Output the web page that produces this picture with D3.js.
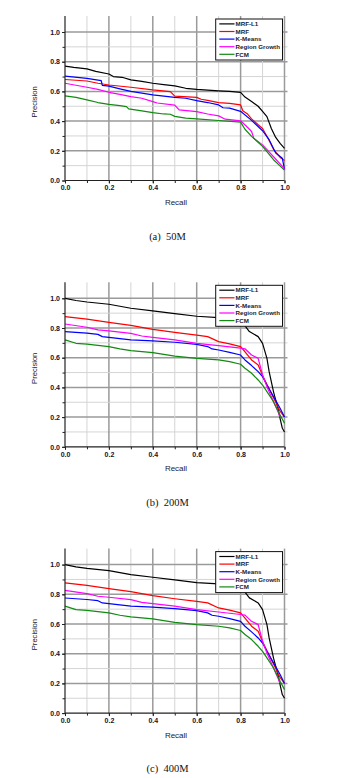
<!DOCTYPE html>
<html>
<head>
<meta charset="utf-8">
<script src="https://cdn.jsdelivr.net/npm/d3@7"></script>
<style>
  html, body { margin: 0; padding: 0; background: #fff; }
  svg { display: block; }
</style>
</head>
<body>
<svg id="chart" width="342" height="778"></svg>
<script>
// ---------- DATA ----------
const seriesNames = ["MRF-L1", "MRF", "K-Means", "Region Growth", "FCM"];
const seriesColors = ["#000000", "#ff0000", "#0000ff", "#ff00ff", "#118a11"];
const xTicks = [0, 0.2, 0.4, 0.6, 0.8, 1.0];
const yTicks = [0, 0.2, 0.4, 0.6, 0.8, 1.0];
const captions = ["(a)  50M", "(b)  200M", "(c)  400M"];
const xLabel = "Recall";
const yLabel = "Precision";

// 50M
const mrfL1_50M = [[0,0.77],[0.04,0.762],[0.1,0.752],[0.14,0.735],[0.2,0.717],[0.22,0.7],[0.26,0.695],[0.3,0.678],[0.35,0.668],[0.4,0.655],[0.45,0.646],[0.5,0.637],[0.55,0.621],[0.6,0.614],[0.7,0.604],[0.75,0.6],[0.8,0.594],[0.82,0.562],[0.85,0.532],[0.88,0.5],[0.9,0.466],[0.92,0.43],[0.94,0.35],[0.96,0.29],[0.98,0.25],[1.0,0.216]];
const mrf_50M = [[0,0.68],[0.1,0.67],[0.15,0.655],[0.2,0.643],[0.3,0.628],[0.4,0.61],[0.48,0.599],[0.5,0.568],[0.6,0.56],[0.62,0.547],[0.65,0.54],[0.7,0.525],[0.75,0.519],[0.8,0.509],[0.81,0.47],[0.83,0.45],[0.85,0.415],[0.88,0.375],[0.9,0.35],[0.93,0.27],[0.95,0.21],[0.98,0.155],[1.0,0.135]];
const kmeans_50M = [[0,0.703],[0.1,0.688],[0.165,0.673],[0.17,0.64],[0.2,0.635],[0.25,0.617],[0.3,0.6],[0.4,0.576],[0.5,0.56],[0.55,0.554],[0.6,0.538],[0.65,0.525],[0.7,0.509],[0.72,0.49],[0.75,0.487],[0.8,0.466],[0.85,0.405],[0.9,0.335],[0.93,0.275],[0.96,0.185],[0.99,0.15],[1.0,0.075]];
const regionGrowth_50M = [[0,0.655],[0.1,0.628],[0.15,0.614],[0.2,0.594],[0.25,0.58],[0.3,0.565],[0.35,0.554],[0.4,0.531],[0.42,0.522],[0.5,0.508],[0.52,0.475],[0.6,0.464],[0.65,0.448],[0.7,0.435],[0.73,0.413],[0.8,0.402],[0.83,0.36],[0.85,0.33],[0.86,0.285],[0.9,0.24],[0.95,0.16],[1.0,0.08]];
const fcm_50M = [[0,0.57],[0.05,0.56],[0.1,0.543],[0.15,0.525],[0.2,0.513],[0.25,0.504],[0.28,0.498],[0.29,0.482],[0.35,0.469],[0.4,0.457],[0.45,0.448],[0.48,0.446],[0.5,0.432],[0.55,0.42],[0.6,0.415],[0.7,0.404],[0.8,0.393],[0.82,0.345],[0.85,0.297],[0.9,0.23],[0.95,0.14],[1.0,0.07]];

// 200M
const mrfL1_200M = [[0,1.0],[0.05,0.985],[0.1,0.975],[0.2,0.96],[0.3,0.933],[0.4,0.915],[0.5,0.897],[0.6,0.879],[0.7,0.87],[0.8,0.855],[0.82,0.815],[0.84,0.776],[0.88,0.742],[0.9,0.697],[0.92,0.596],[0.93,0.506],[0.95,0.37],[0.97,0.26],[0.98,0.19],[0.99,0.125],[1.0,0.1]];
const mrf_200M = [[0,0.877],[0.1,0.86],[0.2,0.838],[0.3,0.818],[0.4,0.791],[0.5,0.77],[0.6,0.752],[0.65,0.742],[0.7,0.708],[0.75,0.693],[0.8,0.675],[0.82,0.64],[0.85,0.585],[0.88,0.551],[0.9,0.48],[0.92,0.42],[0.95,0.33],[0.98,0.24],[1.0,0.2]];
const kmeans_200M = [[0,0.775],[0.1,0.765],[0.15,0.757],[0.17,0.742],[0.3,0.72],[0.4,0.713],[0.5,0.704],[0.6,0.69],[0.65,0.675],[0.67,0.659],[0.7,0.652],[0.75,0.636],[0.8,0.618],[0.82,0.585],[0.85,0.547],[0.88,0.506],[0.9,0.472],[0.92,0.416],[0.95,0.338],[0.98,0.26],[1.0,0.2]];
const regionGrowth_200M = [[0,0.827],[0.1,0.805],[0.15,0.787],[0.2,0.78],[0.3,0.764],[0.35,0.746],[0.4,0.737],[0.5,0.72],[0.55,0.708],[0.6,0.697],[0.7,0.681],[0.8,0.664],[0.82,0.66],[0.85,0.618],[0.88,0.596],[0.9,0.484],[0.92,0.405],[0.95,0.304],[0.97,0.237],[0.98,0.2]];
const fcm_200M = [[0,0.72],[0.05,0.697],[0.1,0.692],[0.2,0.675],[0.25,0.659],[0.3,0.648],[0.4,0.634],[0.5,0.611],[0.6,0.596],[0.7,0.585],[0.75,0.574],[0.8,0.556],[0.82,0.529],[0.85,0.495],[0.88,0.45],[0.9,0.416],[0.92,0.372],[0.95,0.304],[0.98,0.214],[1.0,0.158]];

// 400M
const mrfL1_400M = [[0,1.0],[0.05,0.985],[0.1,0.975],[0.2,0.96],[0.3,0.933],[0.4,0.915],[0.5,0.897],[0.6,0.879],[0.7,0.87],[0.8,0.855],[0.82,0.815],[0.84,0.776],[0.88,0.742],[0.9,0.697],[0.92,0.596],[0.93,0.506],[0.95,0.37],[0.97,0.26],[0.98,0.19],[0.99,0.125],[1.0,0.1]];
const mrf_400M = [[0,0.877],[0.1,0.86],[0.2,0.838],[0.3,0.818],[0.4,0.791],[0.5,0.77],[0.6,0.752],[0.65,0.742],[0.7,0.708],[0.75,0.693],[0.8,0.675],[0.82,0.64],[0.85,0.585],[0.88,0.551],[0.9,0.48],[0.92,0.42],[0.95,0.33],[0.98,0.24],[1.0,0.2]];
const kmeans_400M = [[0,0.775],[0.1,0.765],[0.15,0.757],[0.17,0.742],[0.3,0.72],[0.4,0.713],[0.5,0.704],[0.6,0.69],[0.65,0.675],[0.67,0.659],[0.7,0.652],[0.75,0.636],[0.8,0.618],[0.82,0.585],[0.85,0.547],[0.88,0.506],[0.9,0.472],[0.92,0.416],[0.95,0.338],[0.98,0.26],[1.0,0.2]];
const regionGrowth_400M = [[0,0.827],[0.1,0.805],[0.15,0.787],[0.2,0.78],[0.3,0.764],[0.35,0.746],[0.4,0.737],[0.5,0.72],[0.55,0.708],[0.6,0.697],[0.7,0.681],[0.8,0.664],[0.82,0.66],[0.85,0.618],[0.88,0.596],[0.9,0.484],[0.92,0.405],[0.95,0.304],[0.97,0.237],[0.98,0.2]];
const fcm_400M = [[0,0.72],[0.05,0.697],[0.1,0.692],[0.2,0.675],[0.25,0.659],[0.3,0.648],[0.4,0.634],[0.5,0.611],[0.6,0.596],[0.7,0.585],[0.75,0.574],[0.8,0.556],[0.82,0.529],[0.85,0.495],[0.88,0.45],[0.9,0.416],[0.92,0.372],[0.95,0.304],[0.98,0.214],[1.0,0.158]];

const panels = [
  [mrfL1_50M, mrf_50M, kmeans_50M, regionGrowth_50M, fcm_50M],
  [mrfL1_200M, mrf_200M, kmeans_200M, regionGrowth_200M, fcm_200M],
  [mrfL1_400M, mrf_400M, kmeans_400M, regionGrowth_400M, fcm_400M]
];

// ---------- LAYOUT ----------
const svg = d3.select("#chart");
const panelStep = 266.3;
const x = d3.scaleLinear().domain([0, 1]).range([65, 284.5]);
const y = d3.scaleLinear().domain([0, 1]).range([180.5, 32]);
const yTop = 16;
const gridRight = 287.5;
const minorVals = d3.range(1, 11).map(d => d / 10);
const sans = "'Liberation Sans', Arial, sans-serif";

panels.forEach((series, pi) => {
  const g = svg.append("g").attr("transform", `translate(0,${pi * panelStep})`);

  // grid
  const grid = g.append("g");
  minorVals.forEach((v, i) => {
    const major = (i % 2 === 1);
    const col = major ? "#9a9a9a" : "#d4d4d4";
    const w = major ? 1.5 : 1;
    grid.append("line")
      .attr("x1", x(v)).attr("x2", x(v))
      .attr("y1", yTop).attr("y2", y(0))
      .attr("stroke", col).attr("stroke-width", w);
    grid.append("line")
      .attr("x1", x(0)).attr("x2", gridRight)
      .attr("y1", y(v)).attr("y2", y(v))
      .attr("stroke", col).attr("stroke-width", w);
  });

  // data lines
  const line = d3.line().x(d => x(d[0])).y(d => y(d[1]));
  series.forEach((s, si) => {
    g.append("path")
      .datum(s)
      .attr("fill", "none")
      .attr("stroke", seriesColors[si])
      .attr("stroke-width", 1.2)
      .attr("stroke-linejoin", "round")
      .attr("d", line);
  });

  // axes
  const xAxisMinor = d3.axisBottom(x).tickValues(d3.range(0, 11).map(d => d / 10)).tickSize(2.5).tickFormat("");
  const xAxis = d3.axisBottom(x).tickValues(xTicks).tickSize(3).tickPadding(2).tickFormat(d3.format(".1f"));
  const yAxisMinor = d3.axisLeft(y).tickValues(d3.range(0, 11).map(d => d / 10)).tickSize(2.5).tickFormat("");
  const yAxis = d3.axisLeft(y).tickValues(yTicks).tickSize(3).tickPadding(2).tickFormat(d3.format(".1f"));

  [xAxisMinor, xAxis].forEach(a => {
    const ag = g.append("g").attr("transform", `translate(0,${y(0)})`).call(a);
    ag.select(".domain").remove();
    ag.selectAll(".tick line").attr("stroke", "#222");
    ag.selectAll("text").attr("font-family", sans)
      .attr("font-size", 7).attr("font-weight", "bold").attr("fill", "#111133");
  });
  [yAxisMinor, yAxis].forEach(a => {
    const ag = g.append("g").attr("transform", `translate(${x(0)},0)`).call(a);
    ag.select(".domain").remove();
    ag.selectAll(".tick line").attr("stroke", "#222");
    ag.selectAll("text").attr("font-family", sans)
      .attr("font-size", 7).attr("font-weight", "bold").attr("fill", "#111133");
  });
  // axis lines
  g.append("line").attr("x1", x(0)).attr("x2", x(0)).attr("y1", yTop).attr("y2", y(0))
    .attr("stroke", "#222").attr("stroke-width", 1.2);
  g.append("line").attr("x1", x(0)).attr("x2", x(1)).attr("y1", y(0)).attr("y2", y(0))
    .attr("stroke", "#222").attr("stroke-width", 1.2);

  // axis labels
  g.append("text").text(xLabel)
    .attr("x", 176).attr("y", 205)
    .attr("text-anchor", "middle")
    .attr("font-family", sans)
    .attr("font-size", 8).attr("fill", "#1a1a2e");
  g.append("text").text(yLabel)
    .attr("transform", "translate(37,102) rotate(-90)")
    .attr("text-anchor", "middle")
    .attr("font-family", sans)
    .attr("font-size", 7.6).attr("fill", "#1a1a2e");

  // legend
  const lg = g.append("g");
  lg.append("rect")
    .attr("x", 215.7).attr("y", 19).attr("width", 66.8).attr("height", 41)
    .attr("fill", "#fff").attr("stroke", "#111").attr("stroke-width", 1);
  seriesNames.forEach((name, si) => {
    const yy = 23.9 + si * 7.6;
    lg.append("line").attr("x1", 219.3).attr("x2", 234.5).attr("y1", yy).attr("y2", yy)
      .attr("stroke", seriesColors[si]).attr("stroke-width", 1.2);
    lg.append("text").text(name)
      .attr("x", 235.6).attr("y", yy + 2.3)
      .attr("font-family", sans)
      .attr("font-size", 6.2).attr("font-weight", "bold").attr("fill", "#1a1a2e");
  });

  // caption
  g.append("text").text(captions[pi])
    .attr("x", 167.5).attr("y", 239.5)
    .attr("text-anchor", "middle")
    .style("white-space", "pre")
    .attr("font-family", "'Liberation Serif', 'Times New Roman', serif")
    .attr("font-size", 10.5).attr("fill", "#111");
});
</script>
</body>
</html>
